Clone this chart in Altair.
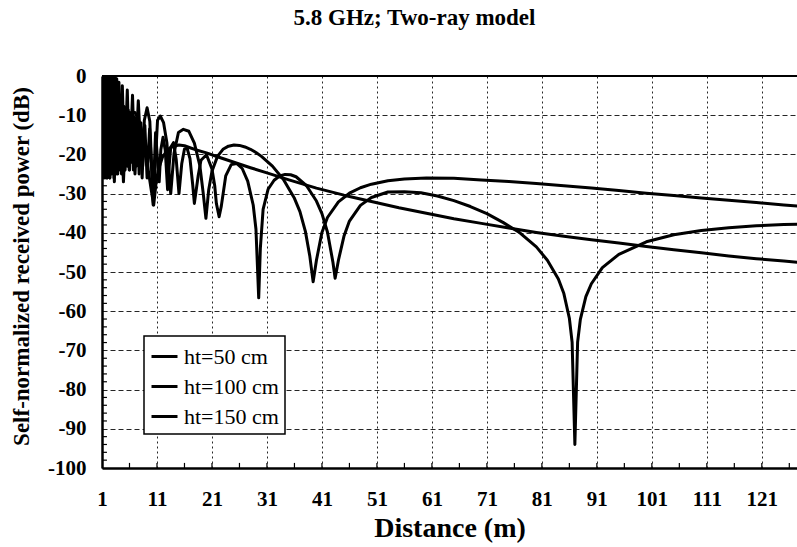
import altair as alt
import pandas as pd

TITLE = "5.8 GHz; Two-ray model"
X_TITLE = "Distance (m)"
Y_TITLE = "Self-normalized received power (dB)"
SERIES = ["ht=50 cm", "ht=100 cm", "ht=150 cm"]
X_TICKS = [1, 11, 21, 31, 41, 51, 61, 71, 81, 91, 101, 111, 121]
Y_TICKS = [-100, -90, -80, -70, -60, -50, -40, -30, -20, -10, 0]
X_MINOR = [6, 16, 26, 36, 46, 56, 66, 76, 86, 96, 106, 116, 126]
Y_MINOR = [-98, -96, -94, -92, -88, -86, -84, -82, -78, -76, -74, -72,
           -68, -66, -64, -62, -58, -56, -54, -52, -48, -46, -44, -42,
           -38, -36, -34, -32, -28, -26, -24, -22, -18, -16, -14, -12,
           -8, -6, -4, -2]

# ht = 50 cm
D50 = [1.0, 1.07, 1.14, 1.21, 1.29, 1.38, 1.49, 1.61, 1.76, 1.93, 2.15, 2.42,
       2.76, 3.25, 3.5, 3.87, 4.3, 4.6, 4.9, 5.25, 5.7, 6.1, 6.5, 7.0, 7.5,
       8.0, 8.5, 9.0, 9.5, 10.0, 10.4, 10.8, 11.2, 12, 13, 14, 15, 16, 17,
       18, 20, 22, 25, 28, 31, 35, 40, 45, 50, 55, 60, 65, 70, 75, 80, 85,
       90, 95, 100, 105, 110, 115, 120, 125, 128]
P50 = [-3, -24, -0.5, -25, -0.5, -24, -0.2, -25, -0.3, -26, -0.4, -26,
       -1.9, -27, -7.3, -4.8, -8.8, -16.4, -27, -15.5, -12.0, -10.3, -9.3,
       -9.3, -10.6, -12.7, -15.4, -19.2, -24.9, -29.5, -32.9, -27.7, -24.2,
       -20.7, -18.7, -17.9, -17.6, -17.8, -18.3, -18.8, -19.6, -20.6, -22.0,
       -23.4, -24.7, -26.5, -28.6, -30.4, -32.0, -33.6, -35.0, -36.4, -37.6,
       -38.8, -39.9, -40.9, -41.8, -42.6, -43.5, -44.3, -45.1, -45.9, -46.6,
       -47.2, -47.6]

# ht = 100 cm
D100 = [1.0, 1.05, 1.1, 1.15, 1.2, 1.25, 1.3, 1.36, 1.42, 1.49, 1.55, 1.61,
        1.68, 1.76, 1.84, 1.93, 2.04, 2.15, 2.28, 2.42, 2.5, 2.58, 2.67,
        2.76, 2.86, 2.97, 3.09, 3.22, 3.36, 3.52, 3.68, 3.87, 4.08, 4.4, 4.7,
        5.1, 5.6, 6.0, 6.55, 7.0, 7.6, 8.3, 8.7, 9.2, 9.7, 10.3, 11.1, 11.6,
        12.2, 12.8, 13.2, 13.5, 14.1, 14.9, 15.8, 16.8, 17.8, 18.8, 19.4,
        19.9, 20.4, 21, 22, 23, 24, 25, 26, 27, 28, 29, 30, 32, 34, 36, 37,
        38, 38.8, 39.4, 40, 41, 42, 44, 46, 48, 50, 53, 56, 60, 65, 70, 75,
        80, 85, 90, 95, 100, 105, 110, 115, 120, 125, 128]
P100 = [-1, -23, -0.5, -22, 0, -23, 0, -22, 0, -23, 0, -22,
        0, -23, 0, -22, 0, -23, 0, -22, 0, -23, 0,
        -22, 0, -23, 0, -24, -0.2, -24, -0.7, -25, -1.6, -24, -2.5,
        -24, -3.6, -24, -4.9, -25, -6.3, -26, -11.3, -8.1, -11.6, -32.9,
        -11.3, -10.2, -11.9, -17.0, -24.7, -30.0, -19.7, -14.4, -13.6, -14.1,
        -17.1, -22.9, -29.8, -36.3, -29.1, -24.3, -20.5, -18.7, -17.9, -17.6,
        -17.7, -18.1, -18.7, -19.5, -20.5, -23.0, -26.4, -31.2, -34.6, -39.7,
        -46.0, -52.5, -47.0, -39.9, -36.1, -32.1, -29.9, -28.5, -27.6, -26.7,
        -26.3, -26.0, -26.1, -26.5, -26.9, -27.4, -28.0, -28.6, -29.2, -29.9,
        -30.5, -31.1, -31.7, -32.3, -32.9, -33.2]

# ht = 150 cm
D150 = [1.0, 1.03, 1.06, 1.09, 1.12, 1.15, 1.18, 1.21, 1.24, 1.27, 1.31, 1.35,
        1.39, 1.43, 1.47, 1.51, 1.55, 1.59, 1.64, 1.69, 1.74, 1.79, 1.84,
        1.89, 1.95, 2.01, 2.07, 2.13, 2.2, 2.27, 2.34, 2.42, 2.5, 2.58, 2.67,
        2.76, 2.86, 2.96, 3.07, 3.18, 3.3, 3.42, 3.55, 3.68, 3.82, 3.96, 4.1,
        4.25, 4.4, 4.55, 4.7, 4.86, 5.03, 5.2, 5.38, 5.6, 5.77, 5.95, 6.11,
        6.3, 6.5, 6.7, 6.94, 7.2, 7.46, 7.75, 8.07, 8.4, 8.79, 9.2, 9.66,
        10.3, 10.74, 11.4, 11.7, 12.1, 12.5, 12.93, 13.2, 13.5, 14.0, 14.5,
        15.0, 15.5, 16.0, 16.5, 17.0, 17.5, 17.8, 18.5, 19.0, 20.0, 21.0,
        21.5, 21.8, 22.3, 22.7, 23.5, 24.5, 25.5, 26.5, 27.5, 28.5, 29.0,
        29.5, 29.8, 30.3, 31.2, 32.3, 33.3, 34.3, 35.3, 36.3, 38.2, 40, 41,
        42, 43, 43.4, 44, 45, 46, 48, 50, 53, 56, 59, 62, 65, 68, 71, 74, 77,
        80, 82, 84, 85, 86, 86.5, 87, 87.5, 88, 89, 90, 92, 95, 100, 105,
        110, 115, 120, 125, 128]
P150 = [-1, -24, -1, -25, 0, -23, -1, -26, 0, -24, -1, -25,
        0, -23, -1, -26, 0, -24, -1, -25, 0, -23, -1,
        -26, -0.5, -24, -1, -25, -1, -23, -1.5, -26, -2, -24, -2.5,
        -25, -3, -23, -3.5, -26, -4.2, -24, -5, -25, -5.6, -23, -6.3,
        -24, -6.9, -25, -7.3, -22, -7.8, -24, -8.1, -23, -8.7, -24, -9.3,
        -22, -9.8, -24, -10.5, -23, -11.1, -25, -11.9, -23, -12.6, -26, -13.5,
        -31, -14.5, -27, -18.8, -15.6, -18.9, -29, -23.2, -18.2, -17.0, -21.3,
        -30, -22.4, -18.6, -18.5, -21.1, -27.8, -32.5, -25.4, -21.5, -20.1,
        -23.7, -28.0, -32.5, -35.9, -33.2, -25.5, -22.6, -22.3, -23.6, -26.8,
        -32.9, -39.1, -56.6, -43.9, -34.0, -28.9, -26.6, -25.5, -25.1, -25.2,
        -25.7, -28.0, -31.9, -35.1, -39.8, -47.5, -51.6, -47.0, -40.9, -37.0,
        -33.0, -31.0, -29.6, -29.5, -29.8, -30.6, -31.8, -33.3, -35.1, -37.4,
        -40.0, -43.6, -47.0, -51.8, -55.5, -61.8, -67.9, -94.0, -67.9, -62.1,
        -56.3, -53.0, -48.9, -45.5, -42.3, -40.5, -39.4, -38.7, -38.2, -37.9,
        -37.8]

FONT = "Liberation Serif"

rows = []
for name, ds, ps in zip(SERIES, [D50, D100, D150], [P50, P100, P150]):
    for d, p in zip(ds, ps):
        rows.append({"d": d, "p": p, "series": name})
df = pd.DataFrame(rows)

x_scale = alt.Scale(domain=[1, 127.4], nice=False, zero=False)
y_scale = alt.Scale(domain=[-100, 0], nice=False, zero=False)

x_axis = alt.Axis(
    values=X_TICKS, title=X_TITLE, grid=True, gridDash=[2, 3],
    gridColor="black", gridWidth=1, gridOpacity=0.85,
    domainColor="black", domainWidth=2.5, ticks=False, tickSize=0,
    labelPadding=20, labelFont=FONT, labelFontSize=21, labelFontWeight="bold",
    labelColor="black", labelFlush=False, labelOverlap=False,
    titleFont=FONT, titleFontSize=28, titleFontWeight="bold",
    titleColor="black", titleY=68, titleBaseline="alphabetic",
)
y_axis = alt.Axis(
    values=Y_TICKS, title=Y_TITLE, grid=True, gridDash=[5, 3],
    gridColor="black", gridWidth=1, gridOpacity=0.85,
    domainColor="black", domainWidth=2.5, ticks=False, tickSize=0,
    labelPadding=16, labelFont=FONT, labelFontSize=21, labelFontWeight="bold",
    labelColor="black", labelFlush=False, labelOverlap=False,
    labelExpr="'' + datum.value",
    titleFont=FONT, titleFontSize=23, titleFontWeight="bold",
    titleColor="black", titleX=-74, titleY=190, titleAngle=270,
    titleBaseline="alphabetic",
)

lines = alt.Chart(df).mark_line(strokeWidth=3, clip=True, strokeJoin="round").encode(
    x=alt.X("d:Q", scale=x_scale, axis=x_axis),
    y=alt.Y("p:Q", scale=y_scale, axis=y_axis),
    color=alt.Color(
        "series:N",
        scale=alt.Scale(domain=SERIES, range=["black", "black", "black"]),
        legend=alt.Legend(
            title=None, orient="none", legendX=42, legendY=260,
            direction="vertical", symbolType="stroke", symbolSize=676,
            symbolStrokeWidth=3, labelFont=FONT, labelFontSize=22,
            labelColor="black", fillColor="white", strokeColor="black",
            padding=6, rowPadding=4, labelOffset=5,
        ),
    ),
)

xt = alt.Chart(pd.DataFrame({"d": X_MINOR + X_TICKS[1:]})).mark_rule(
    color="black", strokeWidth=1.2).encode(
    x=alt.X("d:Q", scale=x_scale, axis=x_axis),
    y=alt.YDatum(-100, scale=y_scale, axis=y_axis),
    y2=alt.datum(-98.7),
)
yt = alt.Chart(pd.DataFrame({"p": Y_MINOR})).mark_rule(
    color="black", strokeWidth=1.2).encode(
    y=alt.Y("p:Q", scale=y_scale, axis=y_axis),
    x=alt.XDatum(1, scale=x_scale, axis=x_axis),
    x2=alt.datum(1.9),
)
top = alt.Chart(pd.DataFrame({"p": [Y_TICKS[-1]]})).mark_rule(
    color="black", strokeWidth=2).encode(
    y=alt.Y("p:Q", scale=y_scale, axis=y_axis),
)

chart = alt.layer(lines, xt, yt, top).properties(
    width=695, height=392,
    autosize=alt.AutoSizeParams(type="none"),
    padding={"left": 102, "top": 76, "right": 0, "bottom": 79},
    title=alt.TitleParams(
        text=TITLE, font=FONT, fontSize=23, fontWeight="bold", color="black",
        anchor="middle", frame="group", dx=-35, offset=17,
        baseline="alphabetic",
    ),
).configure_view(strokeWidth=0).configure_legend(
    strokeWidth=1.5
).configure_axis(labelOverlap=False)

chart.save("out.html", embed_options={"renderer": "svg", "actions": False})
